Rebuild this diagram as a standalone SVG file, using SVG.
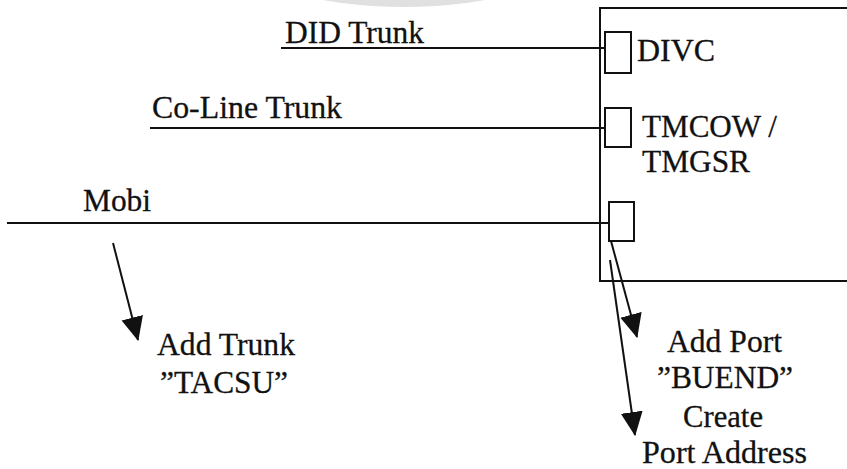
<svg xmlns="http://www.w3.org/2000/svg" width="847" height="469" viewBox="0 0 847 469">
  <style>
    .t { font-family: "Liberation Serif", "DejaVu Serif", "Times New Roman", serif; font-size: 32px; fill: #111; stroke: #111; stroke-width: 0.3; }
    .ln { stroke: #111; stroke-width: 2; fill: none; }
    .port { stroke: #111; stroke-width: 2; fill: #fff; }
  </style>
  <defs>
    <marker id="ah" viewBox="0 0 24 24" markerWidth="24" markerHeight="24" refX="23" refY="12" orient="auto" markerUnits="userSpaceOnUse">
      <path d="M0,1 L24,12 L0,23 z" fill="#111"/>
    </marker>
  </defs>
  <rect width="847" height="469" fill="#fff"/>
  <ellipse cx="404" cy="-31" rx="140" ry="38" fill="#e0e0e0"/>

  <g id="switch">
    <path class="ln" d="M848,8 H600 V281 H848"/>
  </g>

  <g id="port-divc">
    <rect class="port" x="605" y="32" width="26" height="41"/>
    <text class="t" x="637" y="61" textLength="78" lengthAdjust="spacingAndGlyphs">DIVC</text>
  </g>

  <g id="port-tmcow">
    <rect class="port" x="605" y="108" width="26" height="39"/>
    <text class="t" x="642" y="137" textLength="135" lengthAdjust="spacingAndGlyphs">TMCOW /</text>
    <text class="t" x="642" y="172" textLength="108" lengthAdjust="spacingAndGlyphs">TMGSR</text>
  </g>

  <g id="port-mobi">
    <rect class="port" x="609" y="202" width="25" height="39"/>
  </g>

  <g id="trunk-did">
    <text class="t" x="285" y="43" textLength="139" lengthAdjust="spacingAndGlyphs">DID Trunk</text>
  </g>

  <g id="trunk-coline">
    <text class="t" x="152" y="118" textLength="190" lengthAdjust="spacingAndGlyphs">Co-Line Trunk</text>
  </g>

  <g id="trunk-mobi">
    <text class="t" x="83" y="211" textLength="68" lengthAdjust="spacingAndGlyphs">Mobi</text>
  </g>

  <g id="note-tacsu">
    <text class="t" x="157" y="355" textLength="138" lengthAdjust="spacingAndGlyphs">Add Trunk</text>
    <text class="t" x="160" y="393" textLength="128" lengthAdjust="spacingAndGlyphs">”TACSU”</text>
  </g>

  <g id="note-buend">
    <text class="t" x="667" y="352" textLength="115" lengthAdjust="spacingAndGlyphs">Add Port</text>
    <text class="t" x="657" y="388" textLength="136" lengthAdjust="spacingAndGlyphs">”BUEND”</text>
    <text class="t" x="683" y="427" textLength="80" lengthAdjust="spacingAndGlyphs">Create</text>
    <text class="t" x="642" y="463" textLength="165" lengthAdjust="spacingAndGlyphs">Port Address</text>
  </g>

  <g id="connectors">
    <line class="ln" x1="281" y1="48" x2="605" y2="48"/>
    <line class="ln" x1="150" y1="128" x2="605" y2="128"/>
    <line class="ln" x1="7" y1="223" x2="609" y2="223"/>
    <line class="ln" x1="113" y1="243" x2="138" y2="340" marker-end="url(#ah)"/>
    <line class="ln" x1="611" y1="241" x2="637" y2="337" marker-end="url(#ah)"/>
    <line class="ln" x1="610" y1="260" x2="635" y2="435" marker-end="url(#ah)"/>
  </g>
</svg>
